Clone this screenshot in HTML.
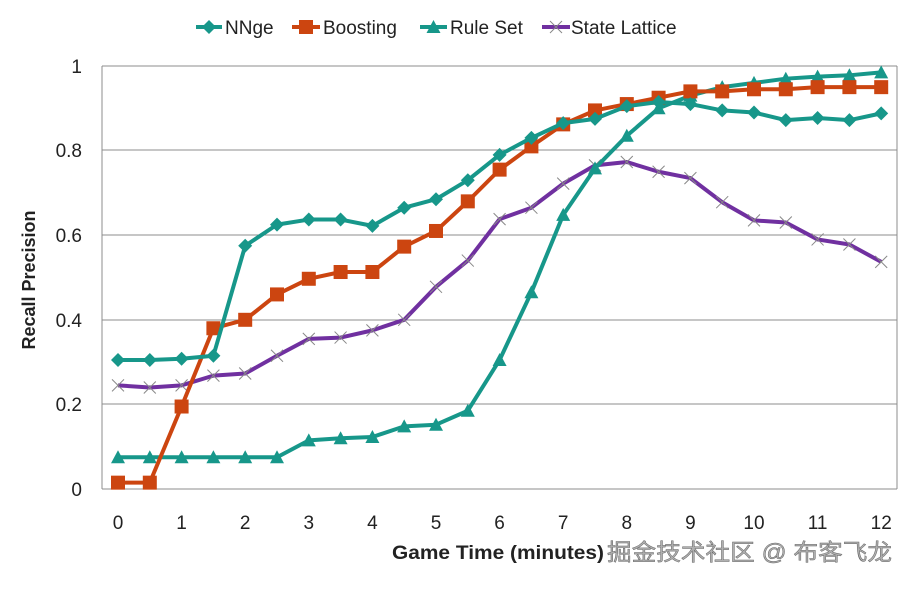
<!DOCTYPE html>
<html><head><meta charset="utf-8"><style>
body{margin:0;background:#fff;width:912px;height:584px;overflow:hidden}
text{font-family:"Liberation Sans","DejaVu Sans",sans-serif}
</style></head><body>
<svg id="s" width="912" height="584" xmlns="http://www.w3.org/2000/svg">
<rect width="912" height="584" fill="#fff"/>
<g stroke="#8c8c8c" stroke-width="1">
<line x1="102" y1="66" x2="897" y2="66"/><line x1="102" y1="150" x2="897" y2="150"/>
<line x1="102" y1="235" x2="897" y2="235"/><line x1="102" y1="320" x2="897" y2="320"/>
<line x1="102" y1="404" x2="897" y2="404"/><line x1="102" y1="489" x2="897" y2="489"/>
<line x1="102" y1="66" x2="102" y2="489"/><line x1="897" y1="66" x2="897" y2="489"/>
</g>
<g font-size="19" fill="#222" text-anchor="end">
<text x="82" y="73">1</text><text x="82" y="157">0.8</text><text x="82" y="242">0.6</text>
<text x="82" y="327">0.4</text><text x="82" y="411">0.2</text><text x="82" y="496">0</text>
</g>
<g font-size="19" fill="#222" text-anchor="middle" id="xt"></g>
<text transform="translate(35,280) rotate(-90)" text-anchor="middle" font-size="18" font-weight="bold" fill="#222">Recall Precision</text>
<text x="392" y="559" font-size="19" font-weight="bold" fill="#222" textLength="212" lengthAdjust="spacingAndGlyphs">Game Time (minutes)</text>
<text x="607" y="560" font-size="23" fill="#b0b0b0" stroke="#666" stroke-width="0.5" textLength="285" lengthAdjust="spacingAndGlyphs" style='font-family:"Liberation Sans","Noto Sans CJK SC",sans-serif'>掘金技术社区 @ 布客飞龙</text>
<g id="series"></g>
<g id="leg" font-size="19" fill="#222">
<text x="225" y="34">NNge</text><text x="323" y="34">Boosting</text>
<text x="450" y="34">Rule Set</text><text x="571" y="34">State Lattice</text>
</g>
</svg>
<script>
var ns="http://www.w3.org/2000/svg",s=document.getElementById('series');
function el(t,a,p){var e=document.createElementNS(ns,t);for(var k in a)e.setAttribute(k,a[k]);(p||s).appendChild(e);return e;}
var xt=document.getElementById('xt');
for(var i=0;i<=12;i++){var t=el('text',{x:118+i*63.6,y:529},xt);t.textContent=i;}
var D={
nn:[0.305,0.305,0.308,0.315,0.575,0.625,0.637,0.637,0.622,0.665,0.685,0.73,0.79,0.83,0.865,0.875,0.905,0.915,0.91,0.895,0.89,0.872,0.877,0.872,0.888],
bo:[0.015,0.015,0.195,0.38,0.40,0.46,0.497,0.513,0.513,0.573,0.61,0.68,0.755,0.81,0.862,0.895,0.91,0.925,0.94,0.94,0.945,0.945,0.95,0.95,0.95],
rs:[0.075,0.075,0.075,0.075,0.075,0.075,0.115,0.12,0.123,0.148,0.152,0.185,0.305,0.465,0.648,0.758,0.835,0.9,0.93,0.95,0.96,0.97,0.975,0.978,0.985],
sl:[0.245,0.24,0.245,0.268,0.273,0.315,0.355,0.358,0.375,0.40,0.478,0.54,0.638,0.665,0.722,0.765,0.773,0.75,0.735,0.678,0.635,0.63,0.59,0.578,0.537]};
function X(i){return 118+i*31.8}function Y(v){return 489-423*v}
function mark(type,x,y,c,g){
 if(type=='d')el('polygon',{points:(x)+','+(y-7)+' '+(x+7)+','+y+' '+x+','+(y+7)+' '+(x-7)+','+y,fill:c},g);
 else if(type=='s')el('rect',{x:x-7,y:y-7,width:14,height:14,fill:c},g);
 else if(type=='t')el('polygon',{points:x+','+(y-7)+' '+(x+7)+','+(y+6)+' '+(x-7)+','+(y+6),fill:c},g);
 else el('path',{d:'M'+(x-6)+' '+(y-6)+'L'+(x+6)+' '+(y+6)+'M'+(x+6)+' '+(y-6)+'L'+(x-6)+' '+(y+6),stroke:'#888','stroke-width':1,fill:'none'},g);
}
function series(d,c,type){
 var p=d.map(function(v,i){return X(i)+','+Y(v)}).join(' ');
 el('polyline',{points:p,fill:'none',stroke:c,'stroke-width':4,'stroke-linejoin':'round'});
 d.forEach(function(v,i){mark(type,X(i),Y(v),c)});
}
series(D.sl,'#7030a0','x');series(D.rs,'#17978a','t');series(D.bo,'#cc4510','s');series(D.nn,'#17978a','d');
var lg=document.getElementById('leg');
function leg(x1,x2,c,t){el('line',{x1:x1,y1:27,x2:x2,y2:27,stroke:c,'stroke-width':4},lg);mark(t,(x1+x2)/2,27,c,lg);}
leg(196,222,'#17978a','d');leg(292,320,'#cc4510','s');leg(420,447,'#17978a','t');leg(542,570,'#7030a0','x');
</script>
</body></html>
